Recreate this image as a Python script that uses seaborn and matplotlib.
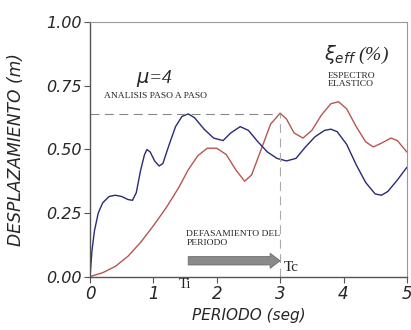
import matplotlib
matplotlib.use("Agg")
import matplotlib.pyplot as plt
import seaborn as sns
import pandas as pd

# Data
blue_x = [0.00, 0.03, 0.07, 0.13, 0.20, 0.30, 0.40, 0.50, 0.60, 0.67, 0.73, 0.80, 0.86, 0.90,
          0.95, 1.02, 1.09, 1.15, 1.25, 1.35, 1.45, 1.55, 1.65, 1.80, 1.95, 2.10, 2.22, 2.37,
          2.50, 2.65, 2.80, 2.95, 3.10, 3.25, 3.40, 3.55, 3.70, 3.80, 3.90, 4.05, 4.20, 4.35,
          4.50, 4.60, 4.70, 4.85, 5.00]
blue_y = [0.00, 0.10, 0.18, 0.25, 0.29, 0.315, 0.32, 0.315, 0.303, 0.30, 0.33, 0.42, 0.48, 0.50,
          0.49, 0.455, 0.435, 0.445, 0.52, 0.59, 0.63, 0.64, 0.625, 0.58, 0.545, 0.535, 0.565, 0.59,
          0.575, 0.53, 0.49, 0.465, 0.455, 0.465, 0.51, 0.55, 0.575, 0.58, 0.57, 0.52, 0.44, 0.37,
          0.325, 0.32, 0.335, 0.38, 0.43]
red_x = [0.00, 0.20, 0.40, 0.60, 0.80, 1.00, 1.20, 1.40, 1.55, 1.70, 1.85, 2.00, 2.15, 2.30,
         2.44, 2.55, 2.70, 2.85, 3.00, 3.10, 3.22, 3.36, 3.50, 3.65, 3.80, 3.92, 4.05, 4.20,
         4.35, 4.47, 4.60, 4.75, 4.85, 5.00]
red_y = [0.00, 0.015, 0.04, 0.08, 0.135, 0.20, 0.27, 0.35, 0.42, 0.475, 0.505, 0.505, 0.48, 0.42,
         0.375, 0.40, 0.50, 0.60, 0.643, 0.62, 0.565, 0.545, 0.575, 0.635, 0.68, 0.688, 0.66, 0.59,
         0.53, 0.51, 0.525, 0.545, 0.535, 0.49]
x_ticks = [0, 1, 2, 3, 4, 5]
y_ticks = [0.00, 0.25, 0.50, 0.75, 1.00]
peak_level = 0.64
t_i = 1.55
t_c = 3.0

sns.set_theme(style="white")
plt.rcParams['font.family'] = ['DejaVu Sans']

fig = plt.figure(figsize=(4.11, 3.30), dpi=100)
ax = fig.add_axes([0.219, 0.162, 0.771, 0.770])

df_b = pd.DataFrame({"x": blue_x, "y": blue_y})
df_r = pd.DataFrame({"x": red_x, "y": red_y})
sns.lineplot(data=df_r, x="x", y="y", ax=ax, color="#b85552", lw=1.0, sort=False)
sns.lineplot(data=df_b, x="x", y="y", ax=ax, color="#2a2a78", lw=1.0, sort=False)

ax.plot([0, t_c], [peak_level, peak_level], color="#888888", lw=0.8, dashes=(8, 5))
ax.plot([t_c, t_c], [0, peak_level], color="#aaaaaa", lw=0.8, dashes=(8, 5))

ax.set_xlim(0, 5)
ax.set_ylim(0, 1)
ax.set_xticks(x_ticks)
ax.set_yticks(y_ticks)
ax.set_xticklabels([str(v) for v in x_ticks], fontstyle="italic", fontsize=12)
ax.set_yticklabels([f"{v:.2f}" for v in y_ticks], fontstyle="italic", fontsize=11.5)
ax.tick_params(axis="both", direction="out", length=4, width=0.8, color="#555555", pad=2)
ax.tick_params(left=True, bottom=True)
for s in ["left", "bottom"]:
    ax.spines[s].set_color("#555555")
    ax.spines[s].set_linewidth(1.0)
for s in ["top", "right"]:
    ax.spines[s].set_color("#999999")
    ax.spines[s].set_linewidth(0.8)

ax.set_xlabel("PERIODO (seg)", fontstyle="italic", fontsize=11, labelpad=4)
ax.set_ylabel("DESPLAZAMIENTO (m)", fontstyle="italic", fontsize=12.3)
ax.yaxis.set_label_coords(-0.205, 0.5)

serif = ["Liberation Serif", "DejaVu Serif"]
ax.text(1.02, 0.78, r"$\mu$=4", fontsize=14, fontstyle="italic", family=serif,
        ha="center", va="center")
ax.text(1.04, 0.712, "ANALISIS PASO A PASO", fontsize=6.8, family=serif,
        ha="center", va="center")
ax.text(4.2, 0.872, r"$\xi_{eff}$ (%)", fontsize=14, fontstyle="italic", family=serif,
        ha="center", va="center")
ax.text(3.75, 0.775, "ESPECTRO\nELASTICO", fontsize=6.8, family=serif,
        ha="left", va="center", linespacing=1.0)
ax.text(1.52, 0.15, "DEFASAMIENTO DEL\nPERIODO", fontsize=6.8, family=serif,
        ha="left", va="center", linespacing=1.1)
ax.annotate("", xy=(t_c, 0.062), xytext=(t_i, 0.062),
            arrowprops=dict(arrowstyle="simple,head_length=0.6,head_width=0.9,tail_width=0.5",
                            fc="#8a8a8a", ec="#6a6a6a", lw=0.6, shrinkA=0, shrinkB=0))
ax.text(t_c + 0.05, 0.035, "Tc", fontsize=11, family=serif, ha="left", va="center")
ax.text(t_i - 0.05, -0.03, "Ti", fontsize=10.5, family=serif, ha="center", va="center",
        clip_on=False)

fig.savefig("out.png", dpi=100, facecolor="white")
